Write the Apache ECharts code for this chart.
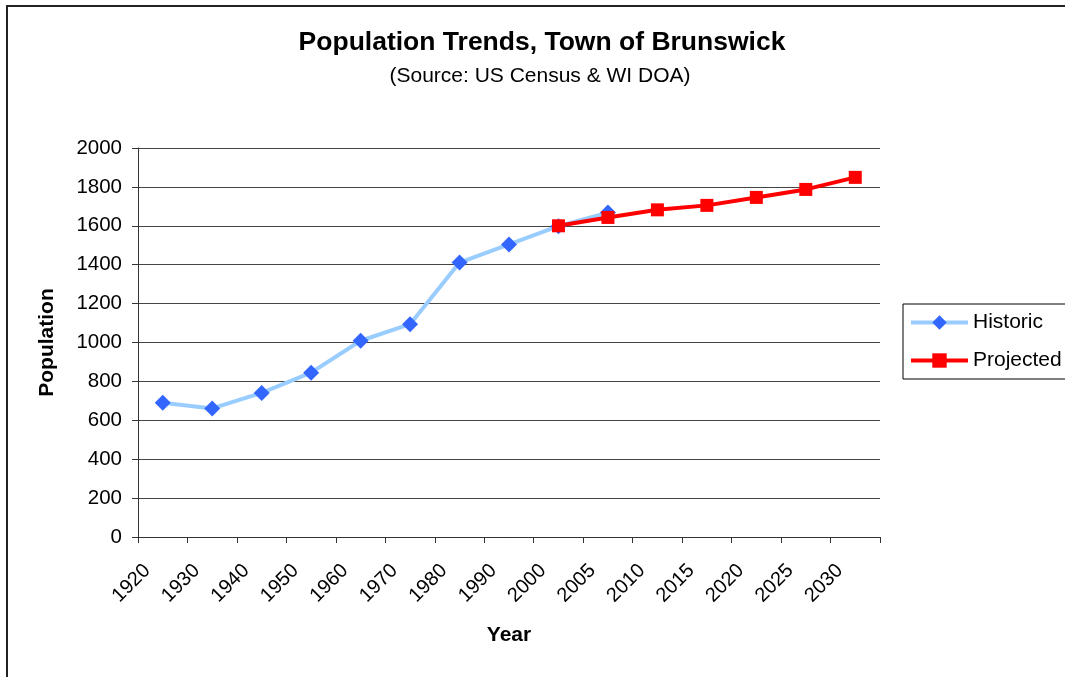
<!DOCTYPE html>
<html>
<head>
<meta charset="utf-8">
<title>Population Trends, Town of Brunswick</title>
<script src="https://cdn.jsdelivr.net/npm/echarts@6/dist/echarts.min.js"></script>
<style>
  html, body { margin: 0; padding: 0; background: #fff; }
  #chart { width: 1065px; height: 677px; }
</style>
</head>
<body>
<div id="chart"></div>
<script>
// Census years and projection years share one category axis
const years = ['1920', '1930', '1940', '1950', '1960', '1970', '1980', '1990', '2000', '2005', '2010', '2015', '2020', '2025', '2030'];
// Recorded population (1920-2005)
const historic = [690, 661, 741, 845, 1009, 1094, 1411, 1504, 1598, 1668, null, null, null, null, null];
// Projected population (2000-2030)
const projected = [null, null, null, null, null, null, null, null, 1600, 1643, 1682, 1705, 1746, 1787, 1849];
const yTicks = { min: 0, max: 2000, step: 200 };

const FONT = '"Liberation Sans", Arial, sans-serif';
const chart = echarts.init(document.getElementById('chart'), null, { renderer: 'canvas' });

chart.setOption({
  backgroundColor: '#ffffff',
  animation: false,
  textStyle: { fontFamily: FONT, color: '#000' },
  graphic: [
    {
      type: 'rect',
      shape: { x: 7, y: 6, width: 1200, height: 800 },
      style: { fill: 'none', stroke: '#222', lineWidth: 2 },
      silent: true
    },
    {
      type: 'text',
      x: 542, y: 43,
      style: {
        text: 'Population Trends, Town of Brunswick',
        font: 'bold 26.5px ' + FONT,
        fill: '#000',
        align: 'center',
        verticalAlign: 'middle'
      }
    },
    {
      type: 'text',
      x: 540, y: 76,
      style: {
        text: '(Source: US Census & WI DOA)',
        font: '21px ' + FONT,
        fill: '#000',
        align: 'center',
        verticalAlign: 'middle'
      }
    }
  ],
  legend: {
    orient: 'vertical',
    left: 903,
    top: 304,
    padding: [8, 30, 8, 6],
    borderColor: '#000',
    borderWidth: 1,
    itemWidth: 57,
    itemHeight: 18,
    itemGap: 17,
    textStyle: { fontFamily: FONT, fontSize: 21, color: '#000' },
    data: [
      { name: 'Historic', lineStyle: { width: 4 } },
      { name: 'Projected', lineStyle: { width: 4 } }
    ]
  },
  grid: { left: 138, right: 185, top: 148, bottom: 140 },
  xAxis: {
    type: 'category',
    data: years,
    boundaryGap: true,
    name: 'Year',
    nameLocation: 'middle',
    nameGap: 88,
    nameTextStyle: { fontFamily: FONT, fontSize: 21, fontWeight: 'bold', color: '#000' },
    axisLine: { lineStyle: { color: '#333', width: 1 } },
    axisTick: { show: true, length: 6, lineStyle: { color: '#333' } },
    axisLabel: { rotate: 45, fontSize: 20, color: '#000', margin: 15, padding: [0, 22, 0, 0], fontFamily: FONT },
    splitLine: { show: false }
  },
  yAxis: {
    type: 'value',
    min: yTicks.min,
    max: yTicks.max,
    interval: yTicks.step,
    name: 'Population',
    nameLocation: 'middle',
    nameGap: 80,
    nameRotate: 90,
    nameTextStyle: { fontFamily: FONT, fontSize: 21, fontWeight: 'bold', color: '#000' },
    axisLine: { show: true, lineStyle: { color: '#333', width: 1 } },
    axisTick: { show: true, length: 6, lineStyle: { color: '#333' } },
    axisLabel: { fontSize: 20.5, color: '#000', margin: 16, fontFamily: FONT, formatter: (v) => String(v) },
    splitLine: { show: true, lineStyle: { color: '#444', width: 1 } }
  },
  series: [
    {
      name: 'Historic',
      type: 'line',
      data: historic,
      connectNulls: false,
      symbol: 'diamond',
      symbolSize: 16,
      lineStyle: { color: '#99CCFF', width: 4 },
      itemStyle: { color: '#3366FF' },
      z: 2
    },
    {
      name: 'Projected',
      type: 'line',
      data: projected,
      connectNulls: false,
      symbol: 'rect',
      symbolSize: 13,
      lineStyle: { color: '#FF0000', width: 4 },
      itemStyle: { color: '#FF0000' },
      z: 3
    }
  ]
});
</script>
</body>
</html>
